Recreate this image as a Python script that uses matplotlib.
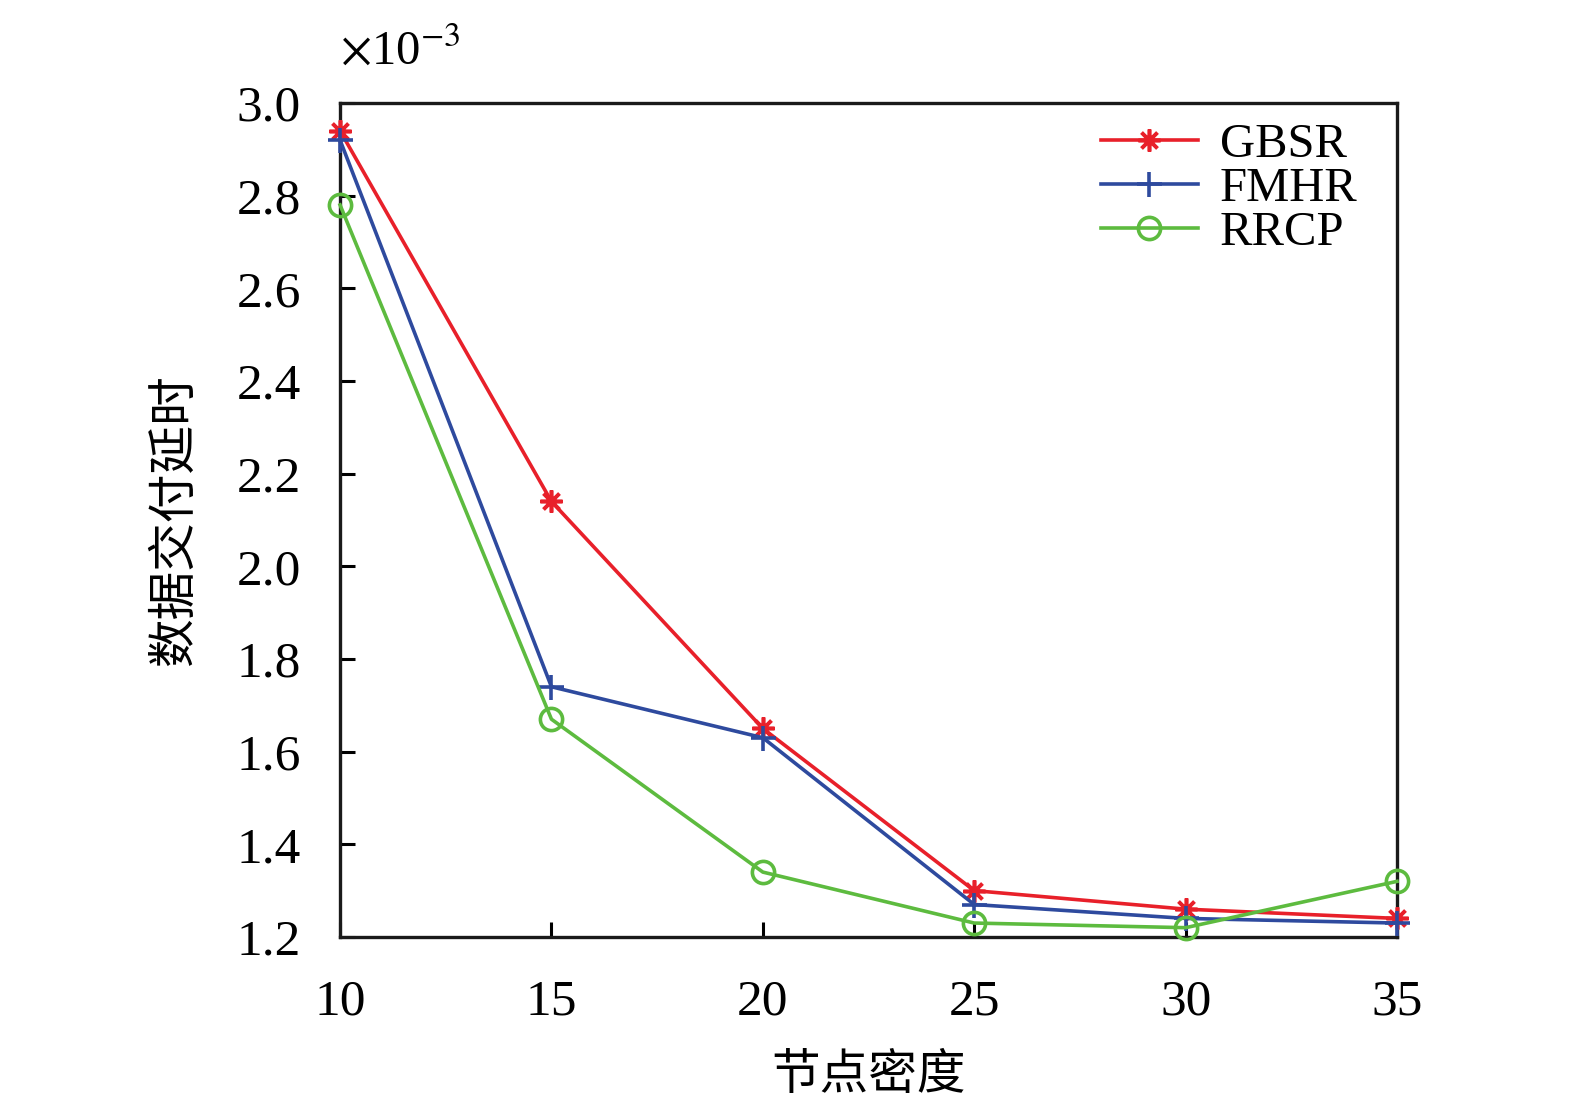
import matplotlib
matplotlib.use("Agg")
import matplotlib.pyplot as plt

node_density = [10, 15, 20, 25, 30, 35]
gbsr = [2.94, 2.14, 1.65, 1.30, 1.26, 1.24]
fmhr = [2.92, 1.74, 1.63, 1.27, 1.24, 1.23]
rrcp = [2.78, 1.67, 1.34, 1.23, 1.22, 1.32]
series_names = ["GBSR", "FMHR", "RRCP"]
y_ticks = [1.2, 1.4, 1.6, 1.8, 2.0, 2.2, 2.4, 2.6, 2.8, 3.0]
x_ticks = [10, 15, 20, 25, 30, 35]
scale_text = r"$\times$10$^{-3}$"
xlabel = "节点密度"
ylabel = "数据交付延时"

plt.rcParams['font.family'] = ['Liberation Serif', 'Noto Sans CJK SC']
plt.rcParams['mathtext.fontset'] = 'stix'

fig = plt.figure(figsize=(15.75, 11.1), dpi=100)
ax = fig.add_axes([0.2159, 0.1559, 0.8870 - 0.2159, 0.9072 - 0.1559])

red = "#E8202A"
blue = "#2E4A9E"
green = "#5DBB3F"

ax.plot(node_density, gbsr, color=red, lw=2.6, marker=(8, 2, 0), markersize=16,
        markeredgewidth=2.6, label=series_names[0], clip_on=False, zorder=3)
ax.plot(node_density, fmhr, color=blue, lw=2.6, marker='+', markersize=18,
        markeredgewidth=2.6, label=series_names[1], clip_on=False, zorder=3)
ax.plot(node_density, rrcp, color=green, lw=2.6, marker='o', markersize=16,
        markerfacecolor='none', markeredgewidth=2.6, label=series_names[2],
        clip_on=False, zorder=3)

ax.set_xlim(10, 35)
ax.set_ylim(1.2, 3.0)
ax.set_xticks(x_ticks)
ax.set_yticks(y_ticks)
ax.set_yticklabels([f"{v:.1f}" for v in y_ticks])
ax.tick_params(direction='in', length=11, width=2.2, labelsize=37,
               top=False, right=False)
ax.tick_params(axis='y', pad=28)
ax.tick_params(axis='x', pad=30)
for s in ax.spines.values():
    s.set_linewidth(2.4)
    s.set_color("#1a1a1a")

ax.set_xlabel(xlabel, fontsize=35, family=['Noto Sans CJK SC'], labelpad=18)
ax.set_ylabel(ylabel, fontsize=35, family=['Noto Sans CJK SC'], labelpad=27)

ax.text(0.0, 1.035, scale_text, transform=ax.transAxes, fontsize=35,
        ha='left', va='bottom')

leg = ax.legend(loc='upper right', bbox_to_anchor=(0.995, 1.017), frameon=False,
                fontsize=35, handlelength=2.0, handletextpad=0.45,
                labelspacing=0.0, borderaxespad=0.3)

fig.savefig("out.png", dpi=100)
